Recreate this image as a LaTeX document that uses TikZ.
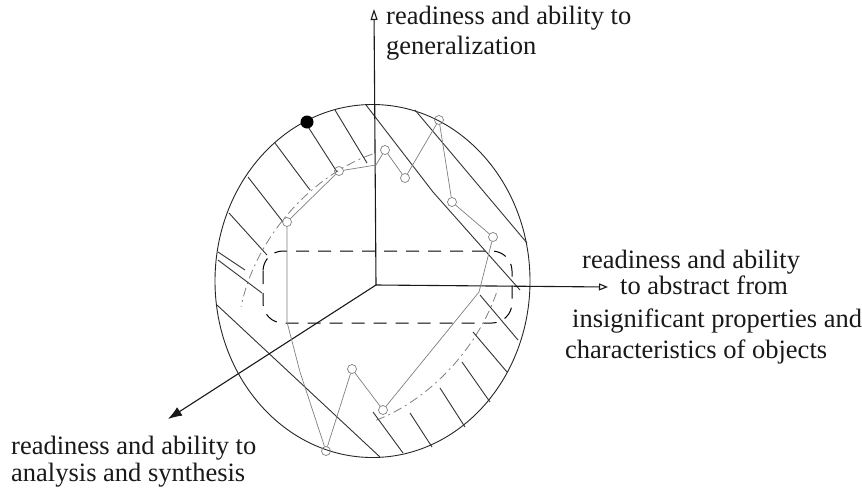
\documentclass[tikz,border=0pt]{standalone}
\usepackage{fontspec}
\setmainfont{Liberation Serif}
\usetikzlibrary{arrows.meta}
\begin{document}
\begin{tikzpicture}[x=1pt,y=-1pt,
  lbl/.style={font=\fontsize{26.5}{30}\selectfont, inner sep=0pt, anchor=base west, text=black!90},
  axis/.style={line width=1.1pt, black!90},
  hatch/.style={line width=0.9pt, black!80},
  traj/.style={line width=0.7pt, black!50},
  pt/.style={circle, draw=black!50, line width=0.7pt, minimum size=9pt, inner sep=0pt},
  inner/.style={line width=0.8pt, black!50, dash pattern=on 9pt off 4pt on 2pt off 4pt},
  equator/.style={line width=1pt, black, dash pattern=on 13pt off 9pt},
  ]
\path[use as bounding box] (0,0) rectangle (862,488);
\fill[white] (0,0) rectangle (862,488);

% outer ellipse
\draw[line width=0.9pt, black!85] (372.5,281) ellipse [x radius=157.5, y radius=176.5];

% inner tilted (meridian) ellipse, visible arcs
\draw[inner] plot[domain=50:128, samples=60, variable=\t]
  ({372+160*cos(\t)*cos(50)-112*sin(\t)*sin(50)}, {288-(160*cos(\t)*sin(50)+112*sin(\t)*cos(50))});
\draw[inner] plot[domain=232:300, samples=60, variable=\t]
  ({372+160*cos(\t)*cos(50)-112*sin(\t)*sin(50)}, {288-(160*cos(\t)*sin(50)+112*sin(\t)*cos(50))});

% equator
\draw[equator, rounded corners=20pt] (263,251) rectangle (512,323);

% hatching upper-left
\draw[hatch] (218,252) -- (245,270);
\draw[hatch] (229,213) -- (267,255);
\draw[hatch] (248,177) -- (283,222);
\draw[hatch] (275,143) -- (310,190);
\draw[hatch] (305,122) -- (337,172);
\draw[hatch] (335,110) -- (367,163);
\draw[hatch] (366,105) -- (433,192) -- (520,290);
\draw[hatch] (415,110) -- (527,243);
\draw[hatch] (218,260) -- (262,293);
\draw[hatch] (217,305) -- (380,457);
% hatching lower-right
\draw[hatch] (480,295) -- (518,340);
\draw[hatch] (473,332) -- (507,372);
\draw[hatch] (462,362) -- (490,402);
\draw[hatch] (440,388) -- (465,427);
\draw[hatch] (410,413) -- (432,447);
\draw[hatch] (373,412) -- (403,453);

% axes
\coordinate (O) at (376,285);
\coordinate (Ztop) at (374,9);
\coordinate (Xend) at (608,287);
\coordinate (Yend) at (168,419);
\draw[axis, -{Triangle[open,length=11pt,width=7pt]}] (O) -- (Ztop);
\draw[axis, -{Triangle[open,length=9pt,width=7pt]}] (O) -- (Xend);
\draw[axis, -{Latex[length=14pt,width=10pt]}] (O) -- (Yend);

% trajectory
\node[pt] (c1) at (287,222) {};
\node[pt] (c2) at (339,171) {};
\node[pt] (c3) at (385,150) {};
\node[pt] (c4) at (405,178) {};
\node[pt] (c5) at (439,120) {};
\node[pt] (c6) at (452,202) {};
\node[pt] (c7) at (493,237) {};
\node[pt] (c8) at (352,369) {};
\node[pt] (c9) at (383,410) {};
\node[pt] (c10) at (326,451) {};
\coordinate (k1) at (376,165);
\coordinate (k2) at (479,292);
\coordinate (k3) at (300,372);
\coordinate (k4) at (287,322);
\draw[traj] (c1) -- (c2) -- (k1) -- (c3) -- (c4) -- (c5) -- (c6) -- (c7) -- (k2) -- (c9) -- (c8) -- (c10) -- (k3) -- (k4) -- (c1);

% black dot
\node[circle, fill=black, minimum size=13pt, inner sep=0pt] (dot) at (307,122) {};

% labels
\node[lbl] (tz1) at (386,24) {readiness and ability to};
\node[lbl] (tz2) at (386,54) {generalization};
\node[lbl] (tx1) at (582,268) {readiness and ability};
\node[lbl] (tx2) at (620,294) {to abstract from};
\node[lbl] (tx3) at (572,327) {insignificant properties and};
\node[lbl] (tx4) at (565,358) {characteristics of objects};
\node[lbl] (ty1) at (11,454) {readiness and ability to};
\node[lbl] (ty2) at (11,481) {analysis and synthesis};
\end{tikzpicture}
\end{document}
